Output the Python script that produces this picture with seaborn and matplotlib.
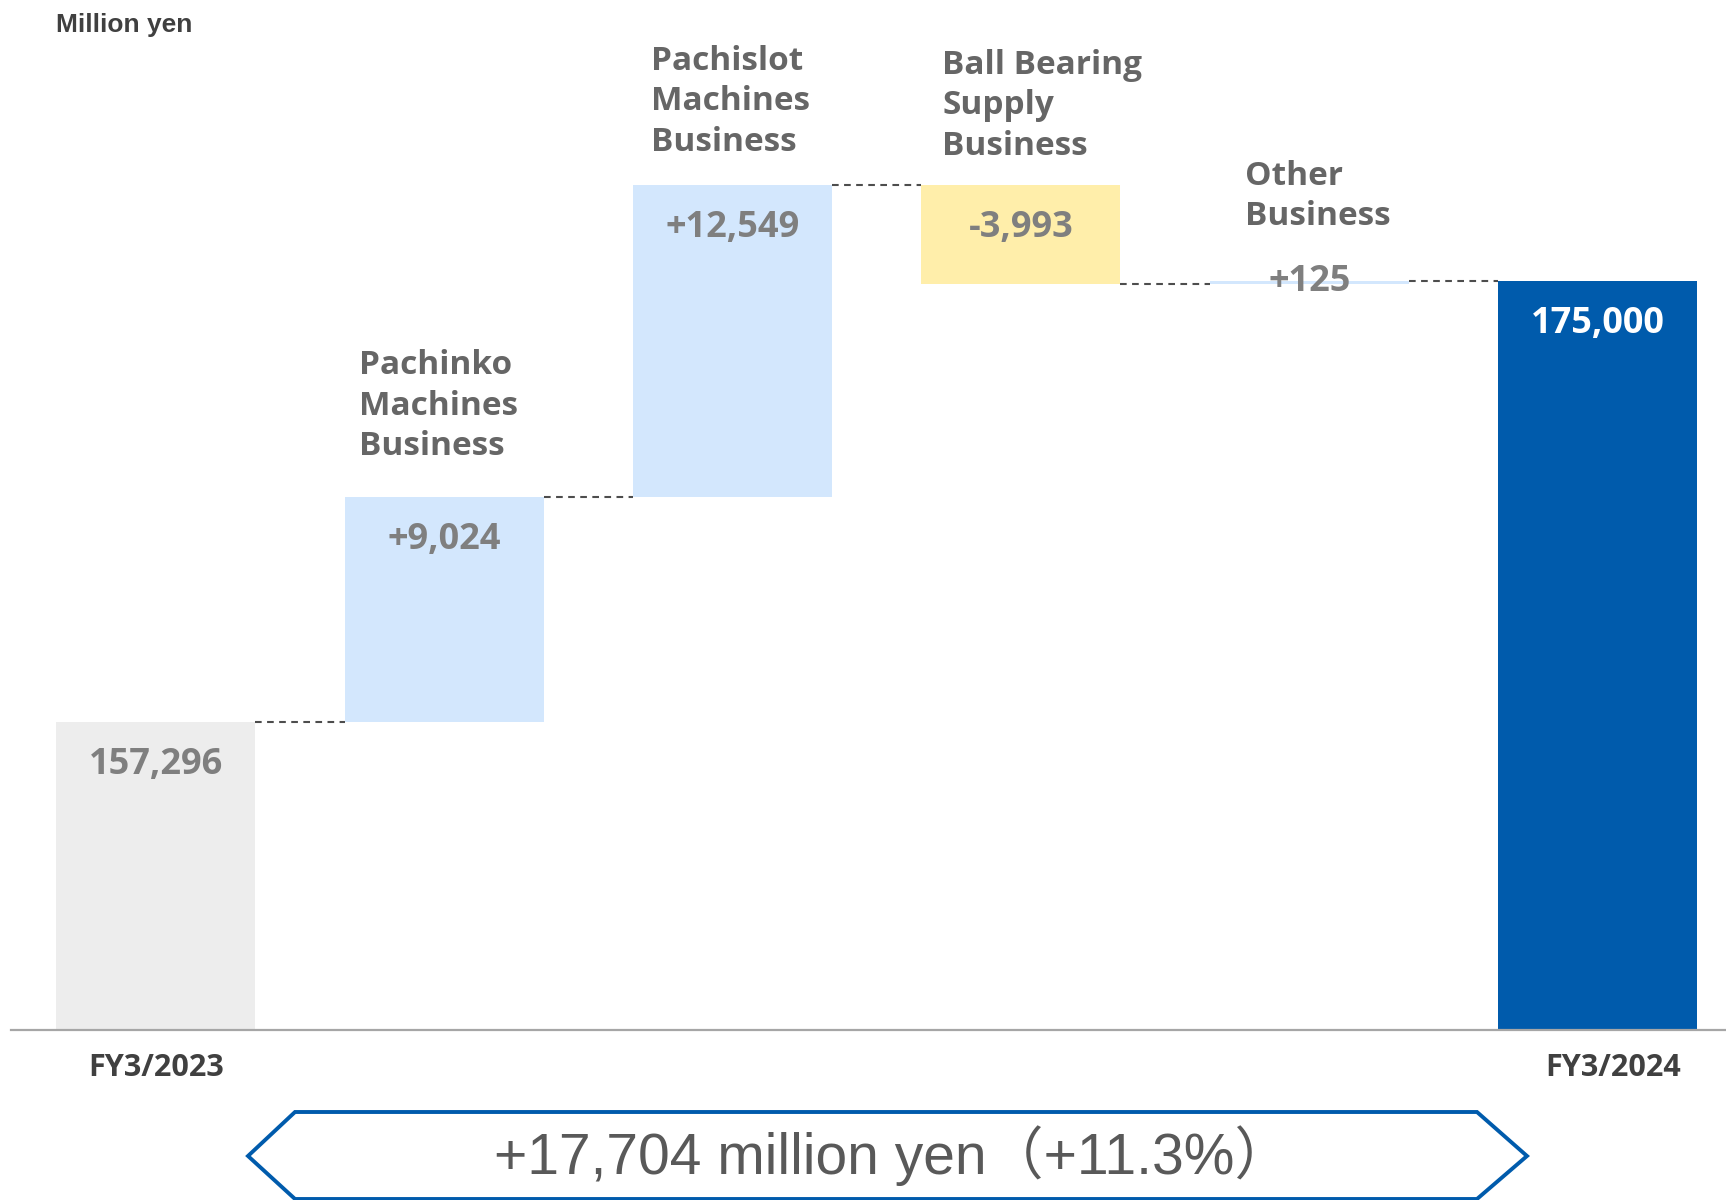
import matplotlib
matplotlib.use("Agg")
import matplotlib.pyplot as plt
import matplotlib.transforms as mtransforms
from matplotlib.patches import Polygon
import seaborn as sns
import numpy as np

# ---------------- data ----------------
categories = ["FY3/2023", "Pachinko", "Pachislot", "BallBearing", "Other", "FY3/2024"]
start_value = 157296
changes = [9024, 12549, -3993, 125]
end_value = 175000
value_labels = ["157,296", "+9,024", "+12,549", "-3,993", "+125", "175,000"]
segment_names = ["Pachinko\nMachines\nBusiness", "Pachislot\nMachines\nBusiness",
                 "Ball Bearing\nSupply\nBusiness", "Other\nBusiness"]
tick_labels = ["FY3/2023", "", "", "", "", "FY3/2024"]
unit_label = "Million yen"
summary_text = "+17,704 million yen（+11.3%）"

# ---------------- derived ----------------
levels = np.cumsum([start_value] + changes)          # running totals after each step
bottoms = [0] + [min(levels[i], levels[i + 1]) for i in range(len(changes))] + [0]
heights = [start_value] + [abs(c) for c in changes] + [end_value]
tops = [b + h for b, h in zip(bottoms, heights)]

colors = ["#EDEDED"] + ["#D3E7FD" if c >= 0 else "#FFEEAA" for c in changes] + ["#005BAC"]

sns.set_theme(style="white")
plt.rcParams["font.family"] = ["Open Sans", "DejaVu Sans"]

W, H = 1726, 1200
fig = plt.figure(figsize=(W / 100, H / 100), dpi=100)
ax_left, ax_bottom_px = 11, 1030
ax = fig.add_axes([ax_left / W, 1 - ax_bottom_px / H, 1 - ax_left / W, ax_bottom_px / H])

bar_w = 0.69
sns.barplot(x=categories, y=heights, bottom=bottoms, ax=ax, width=bar_w,
            errorbar=None, color="#D3E7FD", saturation=1, edgecolor="none", linewidth=0)
for p, c in zip(ax.patches, colors):
    p.set_facecolor(c)
    p.set_edgecolor("none")

ax.set_ylim(144930, 186285)
ax.set_xlim(-0.502, 5.445)

for s in ["left", "right", "top"]:
    ax.spines[s].set_visible(False)
ax.spines["bottom"].set_color("#A6A6A6")
ax.spines["bottom"].set_linewidth(1.6)
ax.set_yticks([])
ax.set_xticks(range(len(categories)))
ax.set_xticklabels(tick_labels, fontsize=22, fontweight="bold", color="#404040")
ax.tick_params(axis="x", length=0, pad=16.5)
# shift last tick label a bit right
lab = ax.get_xticklabels()[-1]
lab.set_transform(lab.get_transform() + mtransforms.ScaledTranslation(15 / 100, 0, fig.dpi_scale_trans))
ax.set_xlabel("")
ax.set_ylabel("")

# connectors
conn_levels = list(levels)
for i in range(len(categories) - 1):
    y = conn_levels[i]
    ax.plot([i + bar_w / 2, i + 1 - bar_w / 2], [y, y], color="#4D4D4D",
            linestyle=(0, (3.2, 2.6)), linewidth=1.5)

# value labels
for i, (t, txt) in enumerate(zip(tops, value_labels)):
    if i == 4:
        off = -1
    else:
        off = -43
    col = "white" if i == 5 else "#7F7F7F"
    ax.annotate(txt, xy=(i, t), xytext=(0, off), textcoords="offset pixels",
                ha="center", va="center", fontsize=26, fontweight="bold", color=col)

# segment names
name_dx = [14, 18, 21, 35]
name_dy = [34, 26, 22, 48]
for k, name in enumerate(segment_names):
    i = k + 1
    ax.annotate(name, xy=(i - bar_w / 2, tops[i]), xytext=(name_dx[k], name_dy[k]),
                textcoords="offset pixels", ha="left", va="bottom", fontsize=24,
                fontweight="bold", color="#666666", linespacing=1.3)

# unit label
fig.text(56 / W, 1 - 25 / H, unit_label, ha="left", va="center", fontsize=19,
         fontweight="bold", color="#404040", family=["Liberation Sans", "DejaVu Sans"])

# summary hexagon
pts = [(248, 1156), (295, 1112), (1477, 1112), (1527, 1156), (1477, 1199), (295, 1199)]
poly = Polygon([(x / W, 1 - y / H) for x, y in pts], closed=True, transform=fig.transFigure,
               facecolor="none", edgecolor="#005BAC", linewidth=2.8)
fig.patches.append(poly)
fig.text(893 / W, 1 - 1156 / H, summary_text, ha="center", va="center", fontsize=41,
         color="#595959",
         family=["Liberation Sans", "Noto Sans CJK JP", "DejaVu Sans"])

fig.savefig("out.png", dpi=100)
